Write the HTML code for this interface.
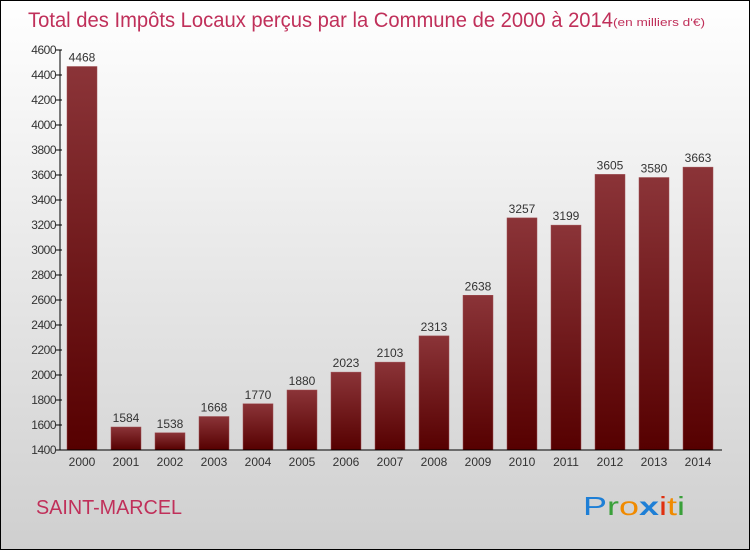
<!DOCTYPE html>
<html><head><meta charset="utf-8"><style>
body{margin:0}
svg text{font-family:"Liberation Sans",sans-serif}
</style></head><body>
<svg width="750" height="550" xmlns="http://www.w3.org/2000/svg">
<defs>
<linearGradient id="bg" x1="0" y1="0" x2="0" y2="1"><stop offset="0" stop-color="#ffffff"/><stop offset="1" stop-color="#cfcfcf"/></linearGradient>
<linearGradient id="bar" x1="0" y1="0" x2="0" y2="1"><stop offset="0" stop-color="#8b3438"/><stop offset="1" stop-color="#560000"/></linearGradient>
</defs>
<rect x="0.5" y="0.5" width="749" height="549" fill="url(#bg)" stroke="#000"/>
<text x="28" y="27" font-size="21" fill="#c0305a" textLength="585" lengthAdjust="spacingAndGlyphs">Total des Impôts Locaux perçus par la Commune de 2000 à 2014</text>
<text x="613" y="26" font-size="11" fill="#c0305a" textLength="92" lengthAdjust="spacingAndGlyphs">(en milliers d'€)</text>
<g id="plot"></g>
<text x="36" y="514" font-size="20" fill="#c0305a" textLength="146" lengthAdjust="spacingAndGlyphs">SAINT-MARCEL</text>
<g font-size="26">
<text x="583" y="515" textLength="102" lengthAdjust="spacingAndGlyphs"><tspan fill="#1e7fd6">P</tspan><tspan fill="#3aa03a">r</tspan><tspan fill="#f08a00">o</tspan><tspan fill="#1e7fd6" font-weight="bold">x</tspan><tspan fill="#e03010">i</tspan><tspan fill="#f08a00">t</tspan><tspan fill="#3aa03a">i</tspan></text>
</g>
</svg>
<script>
const years=["2000","2001","2002","2003","2004","2005","2006","2007","2008","2009","2010","2011","2012","2013","2014"];
const values=[4468,1584,1538,1668,1770,1880,2023,2103,2313,2638,3257,3199,3605,3580,3663];
const ticks=[1400,1600,1800,2000,2200,2400,2600,2800,3000,3200,3400,3600,3800,4000,4200,4400,4600];
const NS="http://www.w3.org/2000/svg";
const g=document.getElementById('plot');
const x0=62,step=44,yBase=450,yMin=1400,yMax=4600,yTop=50;
const y=v=>yBase-(v-yMin)/(yMax-yMin)*(yBase-yTop);
const xc=i=>x0+step*i+20;
function mk(t,a,txt){const e=document.createElementNS(NS,t);for(const k in a)e.setAttribute(k,a[k]);if(txt!==undefined)e.textContent=txt;g.appendChild(e);return e;}
values.forEach((v,i)=>{
 const r=mk('rect',{x:xc(i)-15,y:y(v),width:30,height:yBase-y(v),fill:'url(#bar)',stroke:'#a05055','stroke-width':0.5});
 
 
 const t=mk('text',{x:xc(i),y:y(v)-5,'font-size':12,fill:'#333','text-anchor':'middle'},String(values[i]));
 
 
 const l=mk('text',{x:xc(i),y:466,'font-size':12,fill:'#333','text-anchor':'middle'},years[i]);
 
 
});
const ax=mk('line',{x1:60,y1:yTop,x2:60,y2:yBase,stroke:'#000'});


const bx=mk('line',{x1:60,y1:yBase,x2:722,y2:yBase,stroke:'#000'});


ticks.forEach(v=>{
 mk('line',{x1:56,y1:y(v),x2:62,y2:y(v),stroke:'#000'});
 const t=mk('text',{x:56,y:y(v)+4,'font-size':12,fill:'#333','text-anchor':'end','letter-spacing':'-0.5'},String(v));
 
 
});
</script>
</body></html>
